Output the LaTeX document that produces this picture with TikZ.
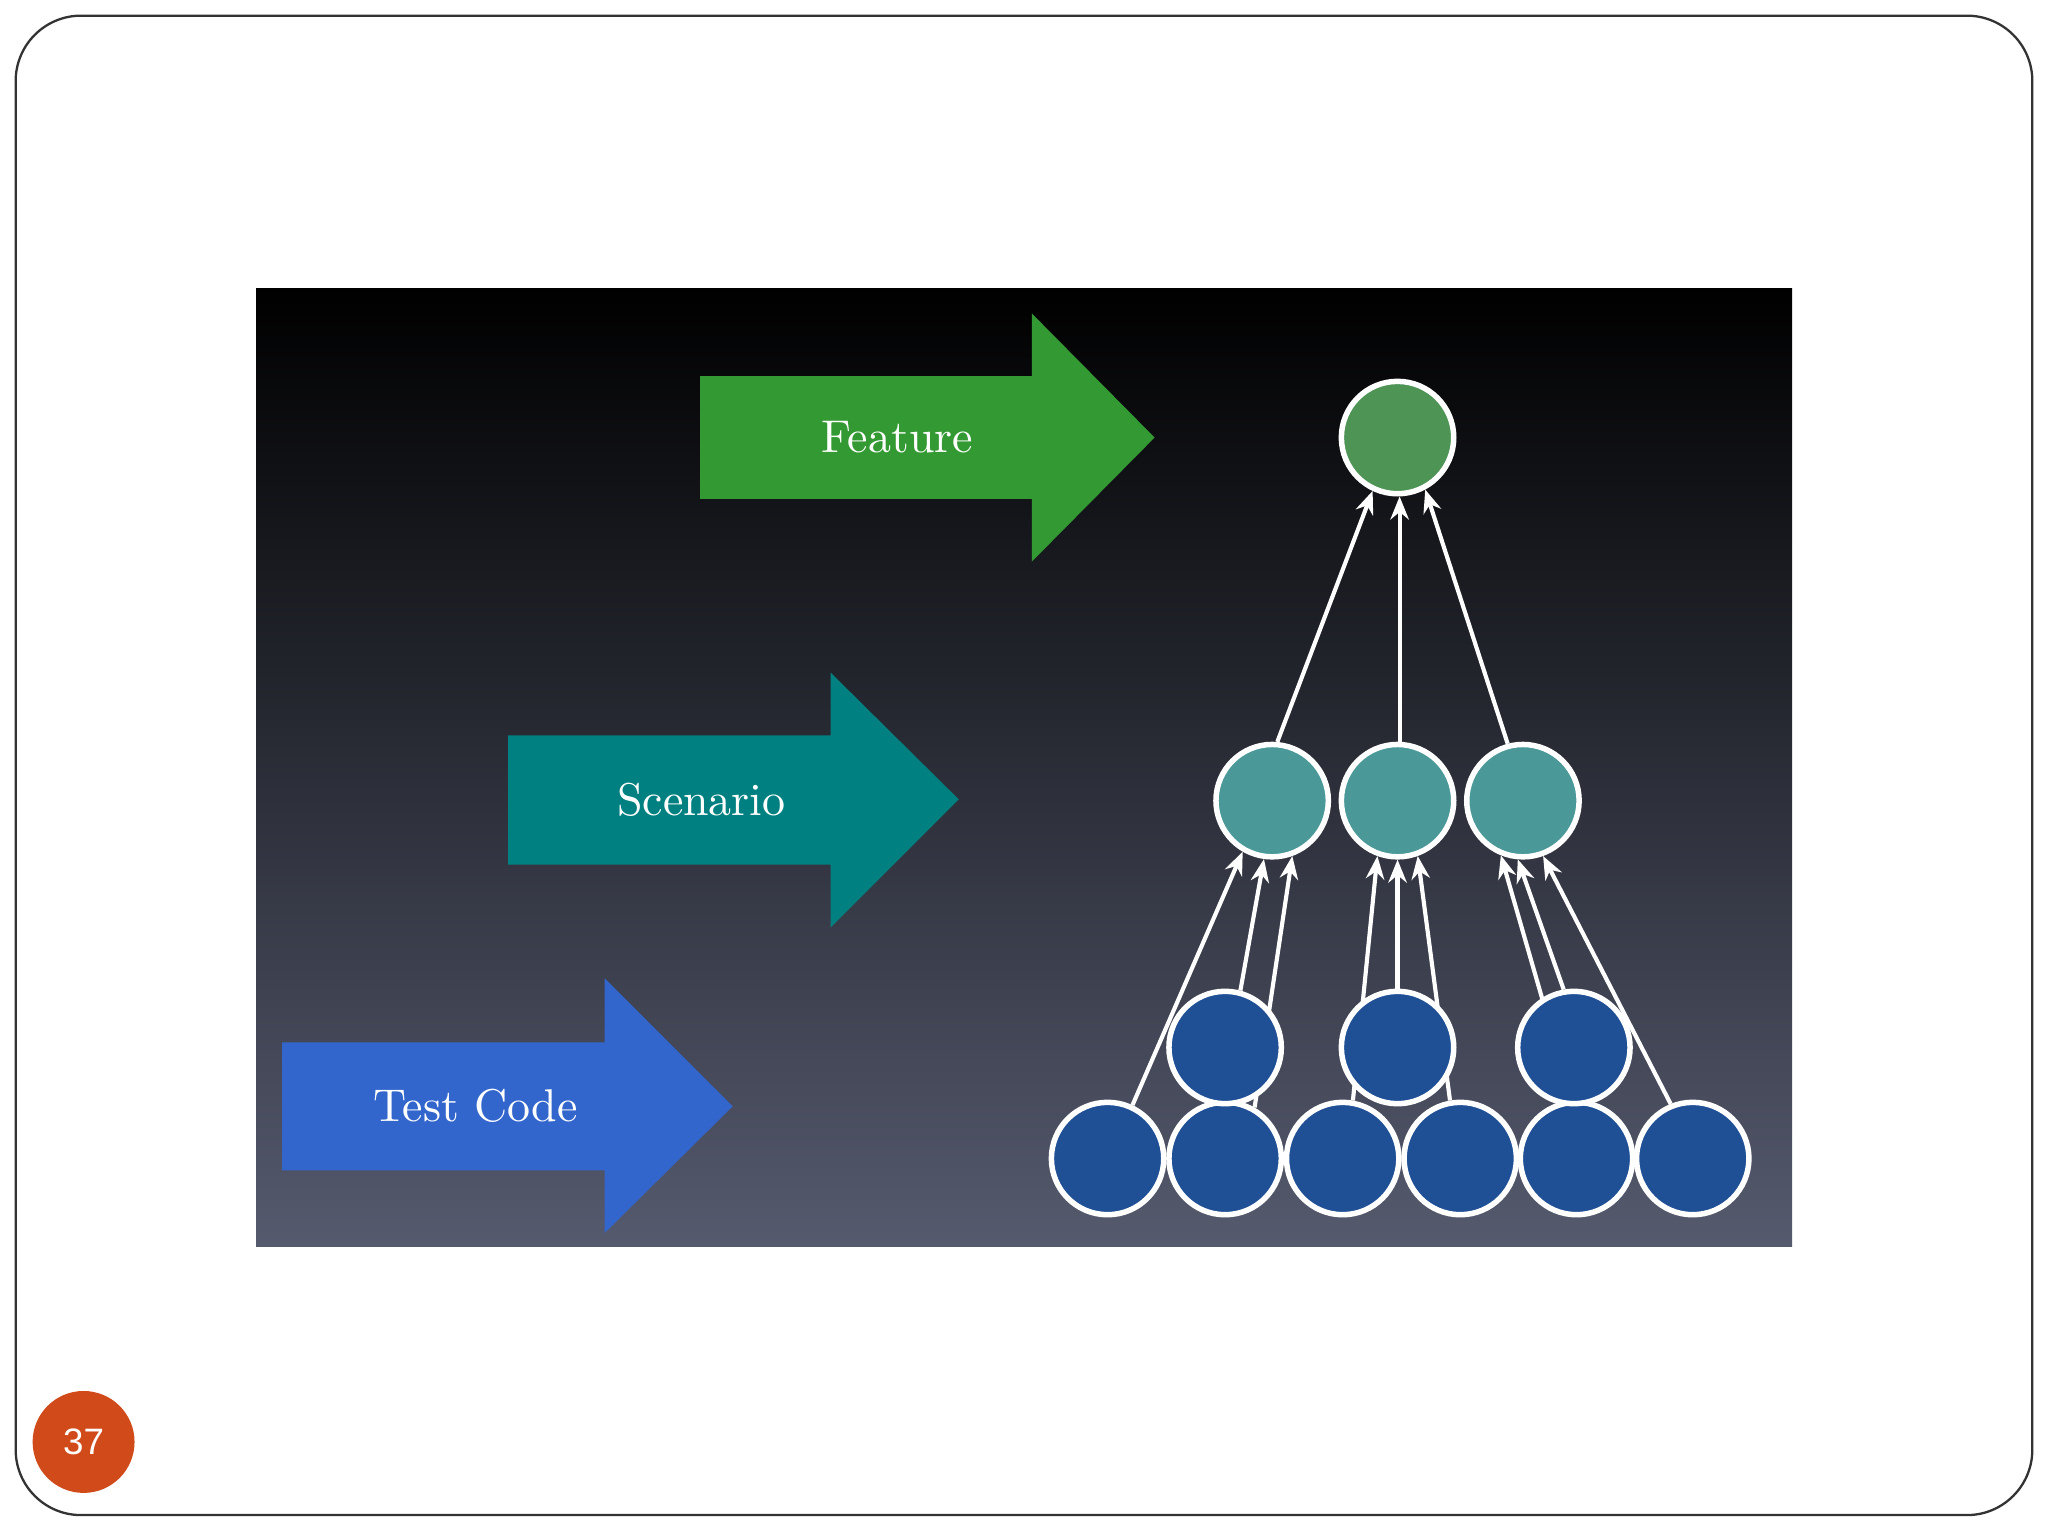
\documentclass[tikz,border=0pt]{standalone}
\usepackage{fontspec}
\newfontfamily\sansf{Liberation Sans}
\usetikzlibrary{arrows.meta}
\pgfdeclarelayer{bg}
\pgfdeclarelayer{conn}
\pgfsetlayers{bg,conn,main}
\definecolor{fgreen}{HTML}{339933}
\definecolor{fteal}{HTML}{008080}
\definecolor{fblue}{HTML}{3366CC}
\definecolor{cgreen}{HTML}{4E9455}
\definecolor{cteal}{HTML}{4A9898}
\definecolor{cblue}{HTML}{1F4F94}
\definecolor{pbot}{HTML}{555A6E}
\definecolor{porange}{HTML}{D04A1A}
\begin{document}
\begin{tikzpicture}[x=0.01cm,y=-0.01cm,
  circ/.style={circle,draw=white,line width=1.2pt,minimum size=0.86cm,inner sep=0pt},
  lbl/.style={text=white,font=\fontsize{10}{12}\selectfont},
  con/.style={draw=white,line width=0.9pt,-{Stealth[length=5pt,width=4pt]}}]
\useasboundingbox (0,0) rectangle (1568,1176);
\begin{pgfonlayer}{bg}
\fill[white] (0,0) rectangle (1568,1176);
\draw[black!80,line width=0.5pt,rounded corners=0.5cm] (12,12) rectangle (1556,1160);
\shade[top color=black,bottom color=pbot] (196,221) rectangle (1372,954);
\end{pgfonlayer}
% big arrows
\fill[fgreen] (536,288) -- (790,288) -- (790,240) -- (884,335) -- (790,430) -- (790,382) -- (536,382) -- cycle;
\node[lbl] (tf) at (687,335) {Feature};
\fill[fteal] (389,563) -- (636,563) -- (636,515) -- (734,612) -- (636,710) -- (636,662) -- (389,662) -- cycle;
\node[lbl] (ts) at (537,612) {Scenario};
\fill[fblue] (216,798) -- (463,798) -- (463,749) -- (561,847) -- (463,944) -- (463,896) -- (216,896) -- cycle;
\node[lbl] (tt) at (364,847) {Test Code};
% circles
\node[circ,fill=cgreen] (f) at (1070,335) {};
\node[circ,fill=cteal] (m1) at (974,613) {};
\node[circ,fill=cteal] (m2) at (1070,613) {};
\node[circ,fill=cteal] (m3) at (1166,613) {};
\node[circ,fill=cblue] (b1) at (848,887) {};
\node[circ,fill=cblue] (b2) at (938,887) {};
\node[circ,fill=cblue] (b3) at (1028,887) {};
\node[circ,fill=cblue] (b4) at (1118,887) {};
\node[circ,fill=cblue] (b5) at (1207,887) {};
\node[circ,fill=cblue] (b6) at (1296,887) {};
\node[circ,fill=cblue] (r1) at (938,802) {};
\node[circ,fill=cblue] (r2) at (1070,802) {};
\node[circ,fill=cblue] (r3) at (1205,802) {};
\begin{pgfonlayer}{conn}
\draw[con] (m1.85) -- (f.245);
\draw[con] (m2.88) -- (f.272);
\draw[con] (m3.105) -- (f.298);
\draw[con] (b1.65) -- (m1.240);
\draw[con] (r1.75) -- (m1.262);
\draw[con] (b2.60) -- (m1.290);
\draw[con] (b3.80) -- (m2.250);
\draw[con] (r2.90) -- (m2.270);
\draw[con] (b4.100) -- (m2.290);
\draw[con] (b5.95) -- (m3.248);
\draw[con] (r3.100) -- (m3.265);
\draw[con] (b6.112) -- (m3.290);
\end{pgfonlayer}
% page number
\node[circle,fill=porange,minimum size=0.78cm,inner sep=0pt,text=white,font=\sansf\fontsize{8}{10}\selectfont] (pn) at (64,1104) {37};
\end{tikzpicture}
\end{document}
